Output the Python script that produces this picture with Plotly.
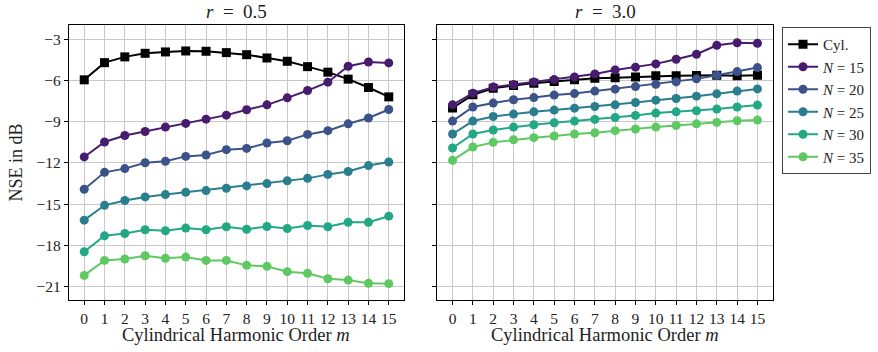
import plotly.graph_objects as go

m = list(range(16))

# r = 0.5
cyl_r05 = [-5.95, -4.70, -4.28, -4.02, -3.92, -3.85, -3.87, -3.97, -4.12, -4.36, -4.60, -4.99, -5.39, -5.90, -6.51, -7.19]
n15_r05 = [-11.56, -10.47, -10.00, -9.71, -9.39, -9.12, -8.81, -8.52, -8.13, -7.77, -7.26, -6.73, -6.12, -4.96, -4.65, -4.72]
n20_r05 = [-13.91, -12.68, -12.41, -11.98, -11.88, -11.52, -11.42, -11.03, -10.94, -10.55, -10.38, -9.92, -9.65, -9.15, -8.73, -8.11]
n25_r05 = [-16.16, -15.08, -14.73, -14.47, -14.30, -14.13, -14.01, -13.84, -13.67, -13.50, -13.30, -13.12, -12.83, -12.62, -12.19, -11.93]
n30_r05 = [-18.46, -17.30, -17.13, -16.86, -16.93, -16.74, -16.86, -16.64, -16.82, -16.62, -16.77, -16.55, -16.64, -16.31, -16.31, -15.87]
n35_r05 = [-20.18, -19.09, -18.99, -18.75, -18.94, -18.85, -19.09, -19.09, -19.45, -19.52, -19.91, -20.03, -20.42, -20.52, -20.76, -20.78]

# r = 3.0
cyl_r30 = [-8.00, -7.04, -6.56, -6.37, -6.19, -6.08, -5.95, -5.83, -5.79, -5.74, -5.66, -5.66, -5.64, -5.62, -5.66, -5.61]
n15_r30 = [-7.77, -6.92, -6.48, -6.29, -6.10, -5.93, -5.74, -5.52, -5.23, -5.03, -4.79, -4.45, -4.09, -3.44, -3.25, -3.29]
n20_r30 = [-8.95, -7.93, -7.64, -7.40, -7.24, -7.06, -6.95, -6.77, -6.63, -6.44, -6.27, -6.10, -5.88, -5.61, -5.35, -5.06]
n25_r30 = [-9.89, -8.95, -8.62, -8.44, -8.28, -8.15, -8.01, -7.89, -7.77, -7.60, -7.43, -7.31, -7.14, -6.97, -6.77, -6.61]
n30_r30 = [-10.91, -9.89, -9.60, -9.39, -9.22, -9.07, -8.95, -8.83, -8.69, -8.54, -8.37, -8.28, -8.20, -8.08, -7.93, -7.79]
n35_r30 = [-11.81, -10.84, -10.50, -10.31, -10.16, -10.04, -9.89, -9.80, -9.65, -9.53, -9.39, -9.27, -9.15, -9.05, -8.93, -8.88]

series_names = ["Cyl.", "<i>N</i> = 15", "<i>N</i> = 20", "<i>N</i> = 25", "<i>N</i> = 30", "<i>N</i> = 35"]
colors = ["#000000", "#471c6e", "#3b528b", "#2a7f8e", "#22a884", "#5ec962"]
symbols = ["square", "circle", "circle", "circle", "circle", "circle"]

panels = [
    [cyl_r05, n15_r05, n20_r05, n25_r05, n30_r05, n35_r05],
    [cyl_r30, n15_r30, n20_r30, n25_r30, n30_r30, n35_r30],
]
titles = ["<i>r</i>\u2002=\u20020.5", "<i>r</i>\u2002=\u20023.0"]
yticks = [-21, -18, -15, -12, -9, -6, -3]
xticks = m

FONT = "Liberation Serif, Times New Roman, Times, serif"

fig = go.Figure()
for p, data in enumerate(panels):
    xa = "x" if p == 0 else "x2"
    ya = "y" if p == 0 else "y2"
    for i, vals in enumerate(data):
        fig.add_trace(go.Scatter(
            x=m, y=vals, mode="lines+markers", name=series_names[i],
            xaxis=xa, yaxis=ya, showlegend=(p == 1),
            line=dict(color=colors[i], width=2),
            marker=dict(symbol=symbols[i], size=9, color=colors[i]),
        ))

L = 878.0
H = 352.0
xdom1 = [69 / L, 404 / L]
xdom2 = [437.3 / L, 772.7 / L]
ydom = [1 - 300 / H, 1 - 25 / H]

axis_common = dict(
    showline=True, linecolor="black", linewidth=1.2, mirror=True,
    ticks="outside", ticklen=4, tickcolor="black", tickwidth=1,
    showgrid=True, gridcolor="#c8c8c8", gridwidth=1, zeroline=False,
    tickfont=dict(family=FONT, size=15.5, color="#222"),
)

fig.update_layout(
    width=878, height=352,
    margin=dict(l=0, r=0, t=0, b=0),
    paper_bgcolor="white", plot_bgcolor="white",
    font=dict(family=FONT, color="#222"),
    xaxis=dict(domain=xdom1, range=[-0.75, 15.75], tickvals=xticks, anchor="y", **axis_common),
    xaxis2=dict(domain=xdom2, range=[-0.75, 15.75], tickvals=xticks, anchor="y2", **axis_common),
    yaxis=dict(domain=ydom, range=[-21.97, -1.96], tickvals=yticks, anchor="x", **axis_common),
    yaxis2=dict(domain=ydom, range=[-21.97, -1.96], tickvals=yticks, anchor="x2", showticklabels=False,
                **axis_common),
    legend=dict(
        x=782 / L, y=1 - 27 / H, xanchor="left", yanchor="top",
        bordercolor="#444", borderwidth=1, bgcolor="white",
        font=dict(family=FONT, size=15, color="#222"),
        itemwidth=30, tracegroupgap=0,
    ),
    showlegend=True,
)

ann = []
for p, t in enumerate(titles):
    dom = xdom1 if p == 0 else xdom2
    ann.append(dict(text=t, x=(dom[0] + dom[1]) / 2, y=1 - 12 / H, xref="paper", yref="paper",
                    showarrow=False, font=dict(family=FONT, size=19, color="#222"),
                    xanchor="center", yanchor="middle"))
    ann.append(dict(text="Cylindrical Harmonic Order <i>m</i>", x=(dom[0] + dom[1]) / 2, y=1 - 335 / H,
                    xref="paper", yref="paper", showarrow=False,
                    font=dict(family=FONT, size=18.5, color="#222"), xanchor="center", yanchor="middle"))
ann.append(dict(text="NSE in dB", x=15.5 / L, y=1 - 163 / H, xref="paper", yref="paper", showarrow=False,
                textangle=-90, font=dict(family=FONT, size=18, color="#222"),
                xanchor="center", yanchor="middle"))
fig.update_layout(annotations=ann)

fig.write_html("out.html", config={"displayModeBar": False},
               post_script="document.body.style.margin='0px';")
